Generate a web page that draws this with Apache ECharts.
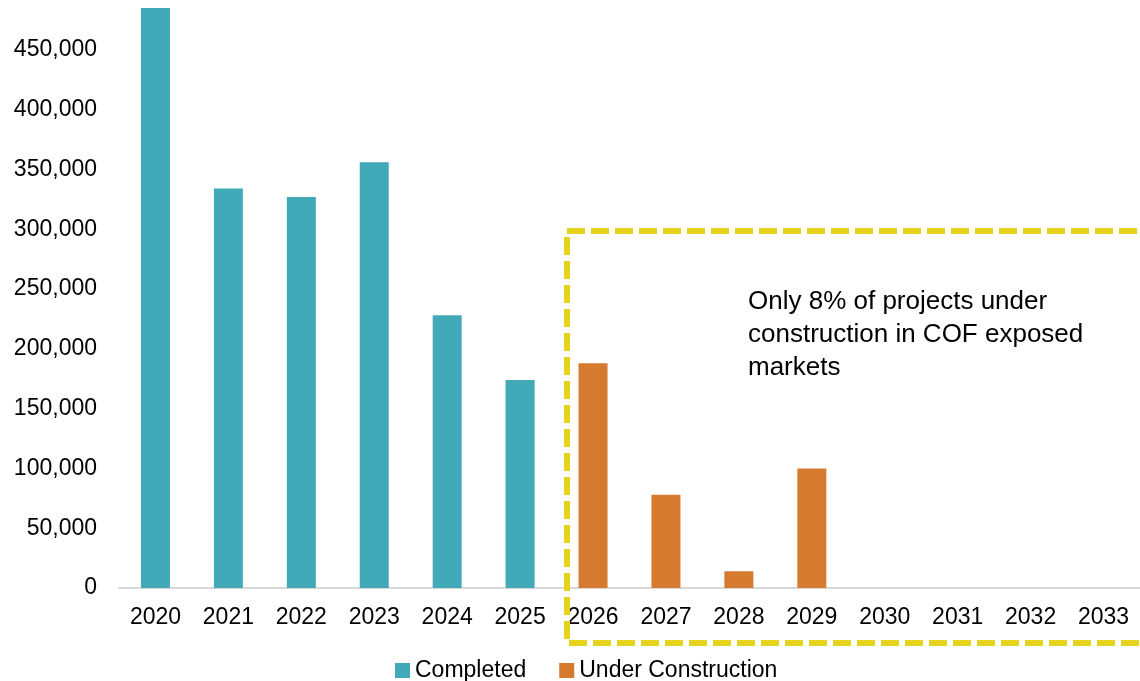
<!DOCTYPE html>
<html>
<head>
<meta charset="utf-8">
<script src="https://cdn.jsdelivr.net/npm/echarts@6/dist/echarts.min.js"></script>
<style>
  html, body { margin: 0; padding: 0; background: #ffffff; overflow: hidden; }
  #chart { width: 1140px; height: 681px; }
</style>
</head>
<body>
<div id="chart"></div>
<script>
// Apartment deliveries by year: completed vs. under construction
const years = ['2020', '2021', '2022', '2023', '2024', '2025', '2026',
               '2027', '2028', '2029', '2030', '2031', '2032', '2033'];
const completed = [485000, 334000, 327000, 356000, 228000, 174000,
                   null, null, null, null, null, null, null, null];
const underConstruction = [null, null, null, null, null, null,
                           188000, 78000, 14000, 100000, 0, 0, 0, 0];
const seriesNames = ['Completed', 'Under Construction'];
const noteLines = ['Only 8% of projects under', 'construction in COF exposed', 'markets'];

const FONT = '"Liberation Sans", Arial, sans-serif';
const TEAL = '#42a9b8';
const ORANGE = '#d67a30';
const YELLOW = '#e6d41c';

const chart = echarts.init(document.getElementById('chart'), null, { renderer: 'canvas' });

chart.setOption({
  animation: false,
  backgroundColor: '#ffffff',
  grid: { left: 119, right: 0, top: 0, height: 588, containLabel: false },
  legend: {
    data: seriesNames,
    left: 390,
    top: 654,
    itemWidth: 15,
    itemHeight: 15,
    itemGap: 33,
    icon: 'rect',
    textStyle: { fontFamily: FONT, fontSize: 23, color: '#000000' }
  },
  xAxis: {
    type: 'category',
    data: years,
    axisLine: { show: true, lineStyle: { color: '#d9d9d9', width: 2 } },
    axisTick: { show: false },
    axisLabel: { fontFamily: FONT, fontSize: 23, color: '#000000', margin: 18, interval: 0 }
  },
  yAxis: {
    type: 'value',
    min: 0,
    max: 491600,
    interval: 50000,
    axisLine: { show: false },
    axisTick: { show: false },
    splitLine: { show: false },
    axisLabel: {
      fontFamily: FONT, fontSize: 23, color: '#000000', margin: 22,
      showMaxLabel: false,
      formatter: v => (v % 50000 === 0) ? v.toLocaleString('en-US') : ''
    }
  },
  series: [
    {
      name: seriesNames[0],
      type: 'bar',
      data: completed,
      barWidth: 29,
      barGap: '-100%',
      itemStyle: { color: TEAL }
    },
    {
      name: seriesNames[1],
      type: 'bar',
      data: underConstruction,
      barWidth: 29,
      barGap: '-100%',
      itemStyle: { color: ORANGE }
    }
  ],
  graphic: [
    {
      type: 'rect',
      silent: true,
      z: 10,
      shape: { x: 567, y: 231, width: 620, height: 412 },
      style: { fill: 'none', stroke: YELLOW, lineWidth: 6, lineDash: [18, 6] }
    },
    {
      type: 'text',
      silent: true,
      z: 10,
      left: 748,
      top: 285,
      style: {
        text: noteLines.join('\n'),
        fontFamily: FONT,
        fontSize: 26,
        lineHeight: 33,
        fill: '#000000'
      }
    }
  ]
});
</script>
</body>
</html>
